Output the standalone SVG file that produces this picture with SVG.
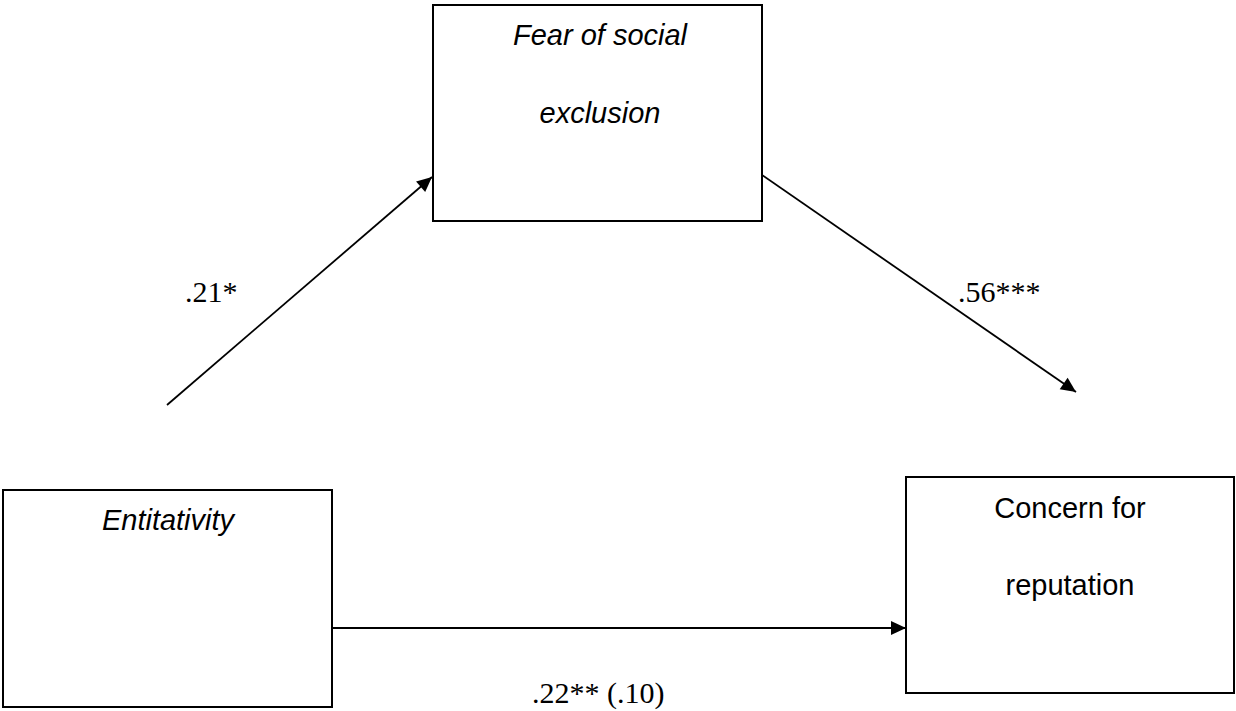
<svg xmlns="http://www.w3.org/2000/svg" width="1236" height="711" viewBox="0 0 1236 711">
<style>
.box{fill:#fff;stroke:#000;stroke-width:2}
.lbl{font-family:"Liberation Sans",Arial,sans-serif;font-size:29px;fill:#000;text-anchor:middle}
.it{font-style:italic}
.coef{font-family:"Liberation Serif","Times New Roman",serif;font-size:30px;fill:#000}
.conn{stroke:#000;stroke-width:1.8;fill:none;marker-end:url(#arr)}
</style>
<defs>
<marker id="arr" markerUnits="userSpaceOnUse" markerWidth="16" markerHeight="14" refX="15" refY="7" orient="auto" overflow="visible">
<path d="M0,0 L15,7 L0,14 z" fill="#000"/>
</marker>
</defs>
<rect width="1236" height="711" fill="#fff"/>
<g id="connectors">
<line class="conn" x1="167" y1="405" x2="432" y2="177"/>
<line class="conn" x1="762" y1="175" x2="1076" y2="392"/>
<line class="conn" x1="332" y1="628" x2="906" y2="628"/>
</g>
<g id="fear">
<rect class="box" x="433" y="5" width="329" height="216"/>
<text class="lbl it" x="600" y="45">Fear of social</text>
<text class="lbl it" x="600" y="123">exclusion</text>
</g>
<g id="entitativity">
<rect class="box" x="3" y="490" width="329" height="217"/>
<text class="lbl it" x="168" y="530">Entitativity</text>
</g>
<g id="concern">
<rect class="box" x="906" y="477" width="328" height="216"/>
<text class="lbl" x="1070" y="518">Concern for</text>
<text class="lbl" x="1070" y="595">reputation</text>
</g>
<g id="labels">
<text class="coef" x="185" y="302">.21*</text>
<text class="coef" x="958" y="302">.56***</text>
<text class="coef" x="532" y="703">.22** (.10)</text>
</g>
</svg>
